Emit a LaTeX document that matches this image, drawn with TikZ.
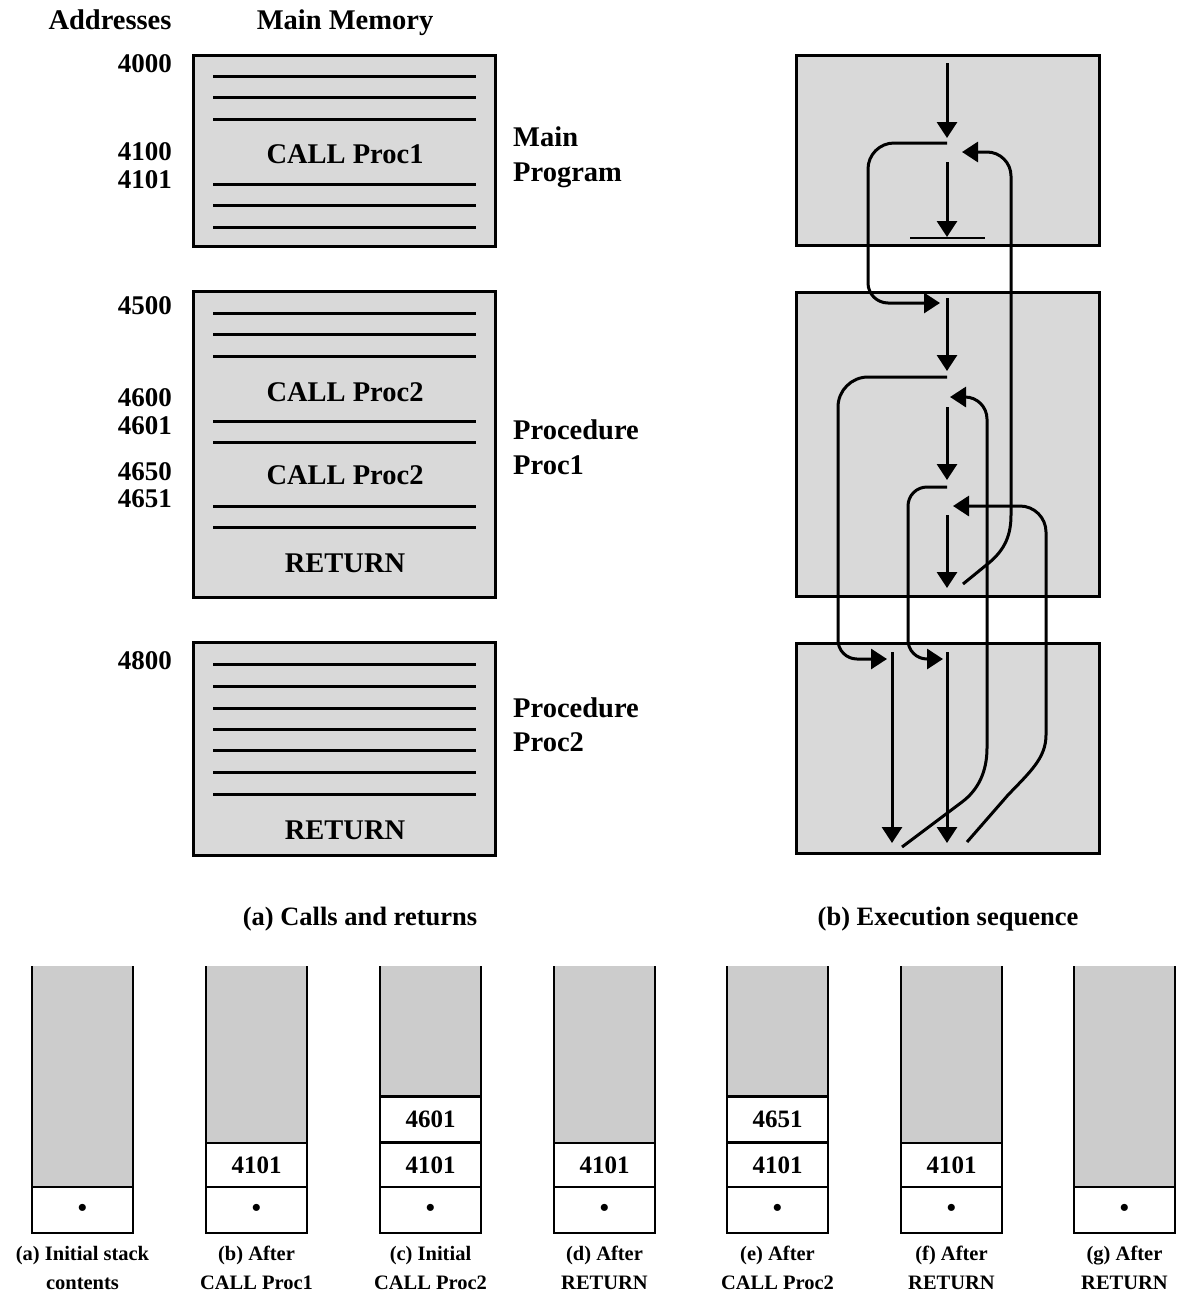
\documentclass[tikz,border=0pt]{standalone}
\usepackage{fontspec}
\setmainfont{Liberation Serif}
\usetikzlibrary{arrows.meta}
\definecolor{boxgray}{HTML}{D9D9D9}
\definecolor{stackgray}{HTML}{CCCCCC}
\newcommand\mystack[4]{%
  \fill[stackgray] (#2-50.5,966) rectangle (#2+50.5,1233);
  \node[cell, minimum height=46pt] (#1d) at (#2,1210) {{\fontsize{26}{26}\selectfont\textbullet}};
  \draw[stk] (#2-50.5,966) -- (#2-50.5,1233) -- (#2+50.5,1233) -- (#2+50.5,966);
  \node[stkcap] (#1l1) at (#2,1260) {#3};
  \node[stkcap] (#1l2) at (#2,1289) {#4};
}
\begin{document}
\begin{tikzpicture}[x=1pt,y=-1pt,
  membox/.style={draw=black, line width=3pt, fill=boxgray, rectangle, inner sep=0pt, minimum width=302pt},
  memline/.style={line width=3pt},
  lbl/.style={font=\bfseries\fontsize{28.5}{35}\selectfont, inner sep=0pt},
  captxt/.style={font=\bfseries\fontsize{26.5}{30}\selectfont, inner sep=0pt, anchor=base},
  num/.style={font=\bfseries\fontsize{27}{30}\selectfont, inner sep=0pt, anchor=base east},
  flow/.style={line width=3pt, -{Triangle[length=16pt,width=20pt]}},
  bar/.style={line width=1.5pt},
  cell/.style={draw=black, line width=2.5pt, fill=white, rectangle, inner sep=0pt, minimum width=101pt, font=\bfseries\fontsize{25}{25}\selectfont},
  stk/.style={line width=2.5pt},
  stkcap/.style={font=\bfseries\fontsize{20.5}{24}\selectfont, inner sep=0pt, anchor=base}
]
\fill[white] (0,0) rectangle (1176,1293);
\useasboundingbox (0,0) rectangle (1176,1293);

% ---------- headers ----------
\node[lbl, anchor=base] (hAddr) at (110,29) {Addresses};
\node[lbl, anchor=base] (hMem) at (345,29) {Main Memory};

% ---------- memory boxes ----------
\node[membox, minimum height=191pt] (m1) at (344,150.5) {};
\node[membox, minimum height=306pt] (m2) at (344,444) {};
\node[membox, minimum height=213pt] (m3) at (344,748.5) {};

\foreach \yy in {76,97,119,184,205,227, 313,334,356,421,442,506,527, 664,686,708,729,750,772,794}
  \draw[memline] (213,\yy) -- (476,\yy);

\node[lbl, anchor=base] (t1) at (345,163) {CALL Proc1};
\node[lbl, anchor=base] (t2) at (345,401) {CALL Proc2};
\node[lbl, anchor=base] (t3) at (345,484) {CALL Proc2};
\node[lbl, anchor=base] (t4) at (345,572) {RETURN};
\node[lbl, anchor=base] (t5) at (345,839) {RETURN};

% addresses
\node[num] (n4000) at (172,72) {4000};
\node[num] (n4100) at (172,160) {4100};
\node[num] (n4101) at (172,188) {4101};
\node[num] (n4500) at (172,314) {4500};
\node[num] (n4600) at (172,406) {4600};
\node[num] (n4601) at (172,434) {4601};
\node[num] (n4650) at (172,480) {4650};
\node[num] (n4651) at (172,507) {4651};
\node[num] (n4800) at (172,669) {4800};

% side labels
\node[lbl, anchor=base west] (s1a) at (513,146) {Main};
\node[lbl, anchor=base west] (s1b) at (513,181) {Program};
\node[lbl, anchor=base west] (s2a) at (513,439) {Procedure};
\node[lbl, anchor=base west] (s2b) at (513,474) {Proc1};
\node[lbl, anchor=base west] (s3a) at (513,717) {Procedure};
\node[lbl, anchor=base west] (s3b) at (513,751) {Proc2};

% captions
\node[captxt] (capA) at (360,925) {(a) Calls and returns};
\node[captxt] (capB) at (948,925) {(b) Execution sequence};

% ---------- execution sequence boxes ----------
\node[membox, minimum width=303pt, minimum height=190pt] (e1) at (947.5,150) {};
\node[membox, minimum width=303pt, minimum height=304pt] (e2) at (947.5,444) {};
\node[membox, minimum width=303pt, minimum height=210pt] (e3) at (947.5,748) {};

% main program
\coordinate (p1) at (947,63);  \coordinate (p2) at (947,138);
\coordinate (p3) at (947,162); \coordinate (p4) at (947,237);
\coordinate (b1) at (910,238); \coordinate (b2) at (985,238);
\draw[flow] (p1) -- (p2);
\draw[flow] (p3) -- (p4);
\draw[bar] (b1) -- (b2);

% call Proc1
\coordinate (c1s) at (947,143); \coordinate (c1e) at (940,303);
\draw[flow] (c1s) -- (894,143) .. controls (879.7,143) and (868,154.7) .. (868,169)
  -- (868,283) .. controls (868,294) and (877,303) .. (888,303) -- (c1e);

% proc1 body
\coordinate (p5) at (947,298); \coordinate (p6) at (947,371);
\coordinate (p7) at (947,407); \coordinate (p8) at (947,480);
\coordinate (p9) at (947,515); \coordinate (p10) at (947,588);
\draw[flow] (p5) -- (p6);
\draw[flow] (p7) -- (p8);
\draw[flow] (p9) -- (p10);

% return to main
\coordinate (r1s) at (963,584); \coordinate (r1e) at (962,152);
\draw[flow] (r1s) -- (990,562) .. controls (1005,549) and (1011,535) .. (1011,515)
  -- (1011,176) .. controls (1011,162.8) and (1000.2,152) .. (987,152) -- (r1e);

% first call Proc2
\coordinate (c2s) at (947,377); \coordinate (c2e) at (887,659);
\draw[flow] (c2s) -- (868,377) .. controls (851.5,377) and (838,390.5) .. (838,407)
  -- (838,640) .. controls (838,650.5) and (846.5,659) .. (857,659) -- (c2e);

% second call Proc2
\coordinate (c3s) at (947,487); \coordinate (c3e) at (943,659);
\draw[flow] (c3s) -- (927,487) .. controls (916.5,487) and (908,495.5) .. (908,506)
  -- (908,640) .. controls (908,650.5) and (916.5,659) .. (927,659) -- (c3e);

% proc2 bodies
\coordinate (q1) at (892,652); \coordinate (q2) at (892,843);
\coordinate (q3) at (947,652); \coordinate (q4) at (947,843);
\draw[flow] (q1) -- (q2);
\draw[flow] (q3) -- (q4);

% return to 4601
\coordinate (r2s) at (902,847); \coordinate (r2e) at (950,397);
\draw[flow] (r2s) -- (962,802) .. controls (978,790) and (987,772) .. (987,748)
  -- (987,419) .. controls (987,406.9) and (977.1,397) .. (965,397) -- (r2e);

% return to 4651
\coordinate (r3s) at (967,842); \coordinate (r3e) at (953,506);
\draw[flow] (r3s) -- (1008,795) .. controls (1030,772) and (1046,758) .. (1046,735)
  -- (1046,532) .. controls (1046,517.7) and (1034.3,506) .. (1020,506) -- (r3e);

% ---------- stacks ----------
\mystack{sa}{82.5}{(a) Initial stack}{contents}
\mystack{sb}{256.5}{(b) After}{CALL Proc1}
\node[cell, minimum height=44pt] (sbx) at (256.5,1165) {4101};
\mystack{sc}{430.5}{(c) Initial}{CALL Proc2}
\node[cell, minimum height=44pt] (scx) at (430.5,1165) {4101};
\node[cell, minimum height=46pt] (scy) at (430.5,1119.5) {4601};
\mystack{sd}{604.5}{(d) After}{RETURN}
\node[cell, minimum height=44pt] (sdx) at (604.5,1165) {4101};
\mystack{se}{777.5}{(e) After}{CALL Proc2}
\node[cell, minimum height=44pt] (sex) at (777.5,1165) {4101};
\node[cell, minimum height=46pt] (sey) at (777.5,1119.5) {4651};
\mystack{sf}{951.5}{(f) After}{RETURN}
\node[cell, minimum height=44pt] (sfx) at (951.5,1165) {4101};
\mystack{sg}{1124.5}{(g) After}{RETURN}
\end{tikzpicture}
\end{document}
